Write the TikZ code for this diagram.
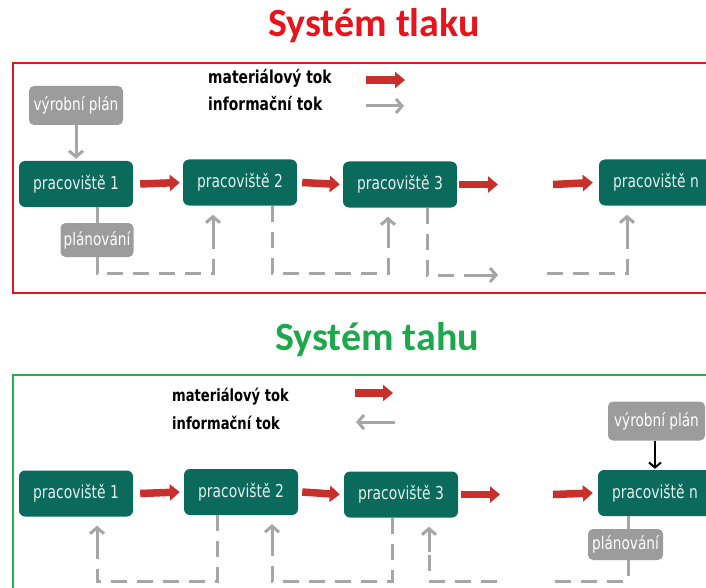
\documentclass[tikz,border=0pt]{standalone}
\usepackage{fontspec}
\setmainfont{DejaVu Sans}
\newfontfamily\titlefont{Carlito}
\newfontfamily\boxfont[FakeStretch=0.78]{DejaVu Sans}
\usetikzlibrary{arrows.meta}
\definecolor{teal0}{HTML}{0A6A5C}
\definecolor{boxtext}{HTML}{E6F0EE}
\definecolor{gboxc}{HTML}{9C9C9C}
\definecolor{infogray}{HTML}{A6A6A6}
\definecolor{redarrow}{HTML}{C9302C}
\definecolor{framered}{HTML}{E3161C}
\definecolor{framegreen}{HTML}{22B14C}
\definecolor{titlered}{HTML}{E8141B}
\definecolor{titlegreen}{HTML}{1BA94C}
\begin{document}
\begin{tikzpicture}[x=1pt,y=-1pt,
  wbox/.style={fill=teal0, rounded corners=6pt, minimum width=114pt, minimum height=46pt,
    text=boxtext, font=\boxfont\fontsize{17.8}{20}\selectfont, inner sep=0pt},
  gbox/.style={fill=gboxc, rounded corners=5pt, minimum height=36pt,
    text=white, font=\boxfont\fontsize{17.5}{20}\selectfont, inner sep=0pt},
  legend/.style={font=\boxfont\bfseries\fontsize{17.8}{20}\selectfont, inner sep=0pt, anchor=base west},
  titlestyle/.style={font=\titlefont\bfseries\fontsize{40}{48}\selectfont, inner sep=0pt, anchor=base},
  matarrow/.style={draw=redarrow, line width=7.5pt, -{Triangle[length=10pt,width=16pt]}},
  info/.style={draw=infogray, line width=3pt, dash pattern=on 16pt off 10pt},
  infosolid/.style={draw=infogray, line width=3pt, solid},
  itip/.style={-{Straight Barb[length=6pt,width=14pt]}},
  upin/.style={infosolid, itip, shorten >=9pt},
]
\clip (0,0) rectangle (706,588);
\fill[white] (0,0) rectangle (706,588);

% ===== Top: Systém tlaku =====
\node[titlestyle, text=titlered] (tt) at (374,37) {Systém tlaku};
\draw[framered, line width=2pt] (13,63) rectangle (740,293);

\node[legend] (lmt) at (208,84) {materiálový tok};
\node[legend] (lit) at (208,111) {informační tok};
\coordinate (lma) at (366,80); \coordinate (lmb) at (405,80);
\coordinate (lia) at (366,106); \coordinate (lib) at (404,106);
\draw[matarrow] (lma) -- (lmb);
\draw[infosolid, itip] (lia) -- (lib);

\node[gbox, minimum width=94pt, minimum height=39pt] (vpt) at (76,105.5) {výrobní plán};
\node[wbox] (p1t) at (76,184) {pracoviště 1};
\node[wbox] (p2t) at (240,182.5) {pracoviště 2};
\node[wbox] (p3t) at (400,184.5) {pracoviště 3};
\node[wbox] (pnt) at (656,182.5) {pracoviště n};
\node[gbox, minimum width=73pt, minimum height=34pt] (plt) at (97,240) {plánování};

\draw[matarrow] ([xshift=7pt]p1t.east) -- ([xshift=-3pt]p2t.west);
\draw[matarrow] ([xshift=5pt]p2t.east) -- ([xshift=-3pt]p3t.west);
\coordinate (m3a) at (459,184.5); \coordinate (m3b) at (498,184.5);
\draw[matarrow] (m3a) -- (m3b);
\coordinate (m4a) at (553,184.5);
\draw[matarrow] (m4a) -- ([xshift=-6pt]pnt.west);

\draw[infosolid, itip, shorten >=2pt] (vpt.south) -- (p1t.north);
\draw[infosolid] (p1t.south -| plt.south) -- (plt.north);

\coordinate (a1) at (97,273); \coordinate (a2) at (213,273); \coordinate (a3) at (213,240);
\draw[info] (plt.south) -- (a1) -- (a2) -- (a3);
\draw[upin] (a3) -- (p2t.south -| a3);
\coordinate (b1) at (272,273); \coordinate (b2) at (388,273); \coordinate (b3) at (388,242);
\draw[info] (p2t.south -| b1) -- (b1) -- (b2) -- (b3);
\draw[upin] (b3) -- (p3t.south -| b3);
\coordinate (c1) at (427,275); \coordinate (c2) at (476,275); \coordinate (c3) at (498,275);
\draw[info] (p3t.south -| c1) -- (c1) -- (c2);
\draw[infosolid, itip] (c2) -- (c3);
\coordinate (d1) at (547,273); \coordinate (d2) at (627,273); \coordinate (d3) at (627,240);
\draw[info] (d1) -- (d2) -- (d3);
\draw[upin] (d3) -- (pnt.south -| d3);

% ===== Bottom: Systém tahu =====
\node[titlestyle, text=titlegreen] (tb) at (377,350) {Systém tahu};
\draw[framegreen, line width=2pt] (13,375) rectangle (740,620);

\node[legend, font=\boxfont\bfseries\fontsize{16.8}{20}\selectfont] (lmb) at (172,401) {materiálový tok};
\node[legend, font=\boxfont\bfseries\fontsize{16.8}{20}\selectfont] (lib) at (172,429) {informační tok};
\coordinate (lmc) at (355,393); \coordinate (lmd) at (393,393);
\coordinate (lic) at (395,422); \coordinate (lid) at (356,422);
\draw[matarrow] (lmc) -- (lmd);
\draw[infosolid, itip] (lic) -- (lid);

\node[wbox] (p1b) at (76,493.5) {pracoviště 1};
\node[wbox] (p2b) at (241,492) {pracoviště 2};
\node[wbox] (p3b) at (401,494.5) {pracoviště 3};
\node[wbox] (pnb) at (655,493) {pracoviště n};
\node[gbox, minimum width=97pt, minimum height=39pt] (vpb) at (656.5,421) {výrobní plán};
\node[gbox, minimum width=75pt, minimum height=31pt] (plb) at (625.5,544.5) {plánování};

\draw[matarrow] ([xshift=7pt]p1b.east) -- ([xshift=-4pt]p2b.west);
\draw[matarrow] ([xshift=4pt]p2b.east) -- ([xshift=-4pt]p3b.west);
\coordinate (n3a) at (461,494.5); \coordinate (n3b) at (500,494.5);
\draw[matarrow] (n3a) -- (n3b);
\coordinate (n4a) at (553,494.5);
\draw[matarrow] (n4a) -- ([xshift=-5pt]pnb.west);

\draw[black, line width=2pt, -{Straight Barb[length=5pt,width=12pt]}, shorten >=1pt] (vpb.south -| pnb.north) -- (pnb.north);

\coordinate (e1) at (217,581); \coordinate (e2) at (97,581); \coordinate (e3) at (97,550);
\draw[info] (p2b.south -| e1) -- (e1) -- (e2) -- (e3);
\draw[upin] (e3) -- (p1b.south -| e3);
\coordinate (f1) at (392,581); \coordinate (f2) at (272,581); \coordinate (f3) at (272,550);
\draw[info] (p3b.south -| f1) -- (f1) -- (f2) -- (f3);
\draw[upin] (f3) -- (p2b.south -| f3);
\coordinate (g1) at (497,581); \coordinate (g2) at (429,581); \coordinate (g3) at (429,552);
\draw[info] (g1) -- (g2) -- (g3);
\draw[upin] (g3) -- (p3b.south -| g3);
\coordinate (h1) at (628,581); \coordinate (h2) at (547,581);
\draw[infosolid] (pnb.south -| h1) -- (plb.north -| h1);
\draw[info] (plb.south -| h1) -- (h1) -- (h2);
\end{tikzpicture}
\end{document}
